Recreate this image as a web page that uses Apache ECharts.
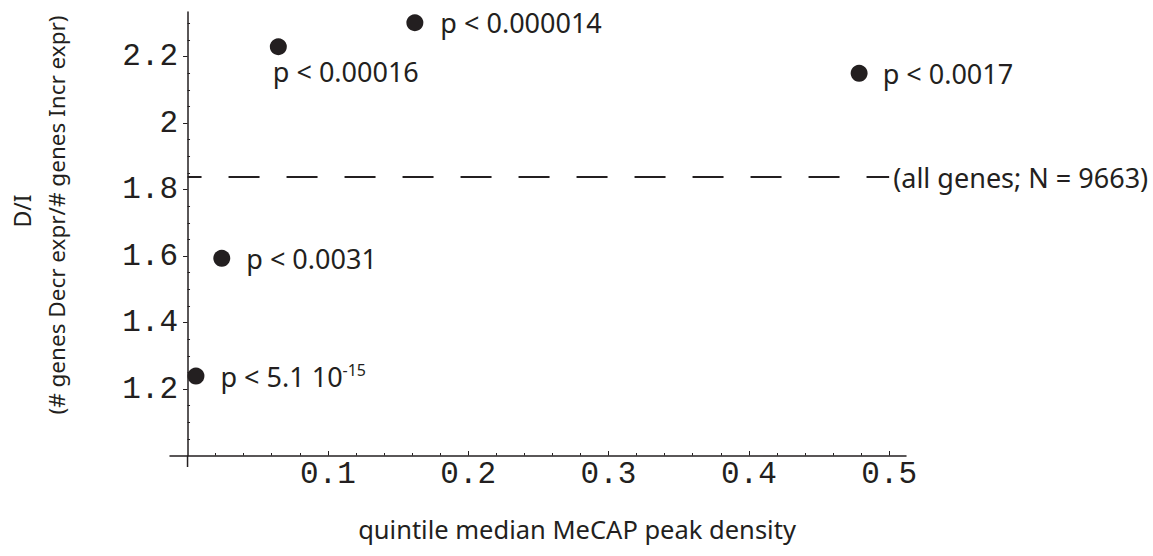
<!DOCTYPE html>
<html>
<head>
<meta charset="utf-8">
<script src="https://cdn.jsdelivr.net/npm/echarts@6/dist/echarts.min.js"></script>
<style>
html,body{margin:0;padding:0;background:#fff;}
#chart{width:1153px;height:556px;}
</style>
</head>
<body>
<div id="chart"></div>
<script>
// ---- data ----
const xVals = [0.006, 0.0244, 0.0647, 0.162, 0.4786];
const yVals = [1.239, 1.593, 2.2295, 2.3017, 2.1495];
const pLabels = ['p < 5.1 10^-15', 'p < 0.0031', 'p < 0.00016', 'p < 0.000014', 'p < 0.0017'];
const allGenesRatio = 1.837;
const allGenesEndX = 0.5;
const allGenesLabel = '(all genes; N = 9663)';
const xTickLabels = [0.1, 0.2, 0.3, 0.4, 0.5];
const yTickLabels = [1.2, 1.4, 1.6, 1.8, 2, 2.2];
const xTitle = 'quintile median MeCAP peak density';
const yTitle1 = 'D/I';
const yTitle2 = '(# genes Decr expr/# genes Incr expr)';

// minor tick positions (axis decoration)
const xMinor = [];
for (let i = 1; i <= 25; i++) { const v = +(i * 0.02).toFixed(2); if (Math.round(v * 100) % 10 !== 0) xMinor.push(v); }
const yMinor = [];
for (let i = 21; i <= 46; i++) { const v = +(i * 0.05).toFixed(2); if (Math.round(v * 100) % 20 !== 0) yMinor.push(v); }

const INK = '#231f20';
const SANS = '"Noto Sans", "Open Sans", sans-serif';
const MONO = '"Liberation Mono", "DejaVu Sans Mono", monospace';

const chart = echarts.init(document.getElementById('chart'), null, {renderer: 'svg'});

const labelPlacement = [
  {position: 'right', distance: 16},
  {position: 'right', distance: 16},
  {position: [3, 33], align: 'left', verticalAlign: 'middle'},
  {position: 'right', distance: 17},
  {position: 'right', distance: 15}
];

const pointData = xVals.map((x, i) => ({
  value: [x, yVals[i]],
  label: Object.assign({
    show: true,
    formatter: pLabels[i].replace(/\^(\S+)/, '{sup|$1}')
  }, labelPlacement[i])
}));

const xMin = -0.0125, xMax = 0.512, yMin = 1.0, yMax = 2.334;

function fmtNum(v) { return String(v); }

chart.setOption({
  animation: false,
  backgroundColor: '#fff',
  grid: {left: 170, right: 247, top: 12, bottom: 100.5, containLabel: false},
  xAxis: [
    {
      type: 'value', min: xMin, max: xMax, position: 'bottom',
      axisLine: {show: true, onZero: false, lineStyle: {color: INK, width: 1.5}},
      axisTick: {show: true, inside: true, length: 2.5, lineStyle: {color: INK, width: 1}, customValues: xMinor},
      axisLabel: {show: true, customValues: xTickLabels, formatter: fmtNum, margin: 3,
        fontFamily: MONO, fontSize: 31, color: INK},
      splitLine: {show: false}
    },
    {
      type: 'value', min: xMin, max: xMax, position: 'bottom',
      axisLine: {show: false, onZero: false},
      axisTick: {show: true, inside: true, length: 4.5, lineStyle: {color: INK, width: 1}, customValues: xTickLabels},
      axisLabel: {show: false},
      splitLine: {show: false}
    }
  ],
  yAxis: [
    {
      type: 'value', min: yMin, max: yMax,
      axisLine: {show: true, onZero: true, lineStyle: {color: INK, width: 1.5}},
      axisTick: {show: true, inside: true, length: 2.5, lineStyle: {color: INK, width: 1}, customValues: yMinor},
      axisLabel: {show: true, customValues: yTickLabels, formatter: fmtNum, margin: -8, align: 'right',
        fontFamily: MONO, fontSize: 31, color: INK},
      splitLine: {show: false}
    },
    {
      type: 'value', min: yMin, max: yMax,
      axisLine: {show: false, onZero: true},
      axisTick: {show: true, inside: true, length: 4.5, lineStyle: {color: INK, width: 1}, customValues: yTickLabels},
      axisLabel: {show: false},
      splitLine: {show: false}
    }
  ],
  series: [
    {
      type: 'scatter',
      xAxisIndex: 0, yAxisIndex: 0,
      symbol: 'circle', symbolSize: 17,
      itemStyle: {color: INK, opacity: 1},
      label: {
        color: INK, fontFamily: SANS, fontSize: 27, lineHeight: 28,
        rich: {sup: {fontFamily: SANS, fontSize: 16, lineHeight: 16, verticalAlign: 'top', color: INK}}
      },
      emphasis: {disabled: true},
      data: pointData,
      markLine: {
        silent: true, symbol: 'none', animation: false,
        lineStyle: {color: INK, width: 2, type: [31, 27], dashOffset: 17, opacity: 1},
        label: {show: true, position: 'end', distance: 4, formatter: allGenesLabel,
          color: INK, fontFamily: SANS, fontSize: 27},
        data: [[{coord: [0, allGenesRatio]}, {coord: [allGenesEndX, allGenesRatio]}]]
      }
    }
  ]
});

// axis decorations: y axis stub below x axis, and axis titles
const origin = chart.convertToPixel({xAxisIndex: 0, yAxisIndex: 0}, [0, yMin]);
chart.setOption({
  graphic: [
    {type: 'line', shape: {x1: origin[0], y1: origin[1], x2: origin[0], y2: origin[1] + 11.5},
      style: {stroke: INK, lineWidth: 1.5}, silent: true},
    {type: 'text', x: 577, y: 529,
      style: {text: xTitle, fill: INK, font: '25.5px ' + SANS, textAlign: 'center', textVerticalAlign: 'middle'}},
    {type: 'text', x: 22, y: 211, rotation: Math.PI / 2,
      style: {text: yTitle1, fill: INK, font: '23px ' + SANS, textAlign: 'center', textVerticalAlign: 'middle'}},
    {type: 'text', x: 56, y: 215, rotation: Math.PI / 2,
      style: {text: yTitle2, fill: INK, font: '22.5px ' + SANS, textAlign: 'center', textVerticalAlign: 'middle'}}
  ]
});
</script>
</body>
</html>
